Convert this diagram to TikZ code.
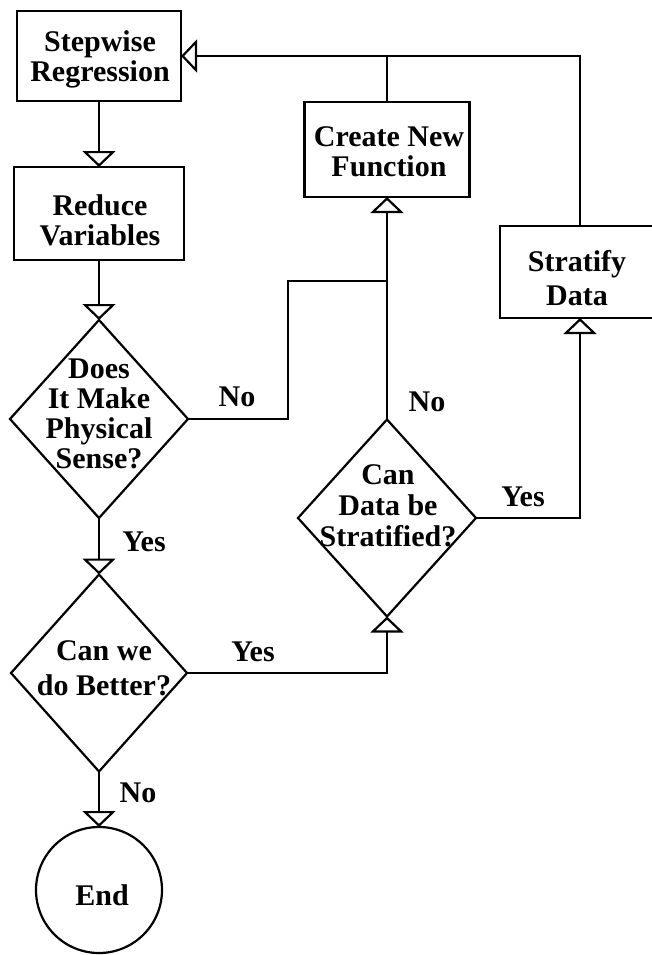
\documentclass[tikz,border=0pt]{standalone}
\usepackage{fontspec}
\setmainfont{Liberation Serif}
\usetikzlibrary{arrows.meta,shapes.geometric}
\begin{document}
\begin{tikzpicture}[x=1pt,y=-1pt,
  every node/.style={font=\fontsize{30}{30}\selectfont\bfseries, align=center, inner sep=0pt, outer sep=0pt},
  box/.style={draw, line width=2.2pt, rectangle},
  dia/.style={draw, line width=2.2pt, diamond},
  conn/.style={line width=2.2pt},
  arr/.style={line width=2.2pt, -{Triangle[open, length=16pt, width=33pt, fill=white]}}]
\useasboundingbox (0,0) rectangle (652,955);
\clip (0,0) rectangle (652,955);
% nodes
\node[box, minimum width=164pt, minimum height=90pt] (step) at (99,56) {};
\node (stept) at (100,59) {Stepwise\\Regression};
\node[box, minimum width=170pt, minimum height=93pt] (red) at (99,213.5) {};
\node (redt) at (100,220) {Reduce\\Variables};
\node[box, minimum width=165pt, minimum height=95pt] (cnf) at (387,149.5) {};
\node (cnft) at (389,152) {Create New\\Function};
\node[box, minimum width=160pt, minimum height=92pt] (strat) at (580,272) {};
\node[font=\fontsize{30}{34}\selectfont\bfseries] (stratt) at (577,278) {Stratify\\Data};
\node[dia, minimum width=178pt, minimum height=198pt] (d1) at (99,419) {};
\node (d1t) at (99,414) {Does\\It Make\\Physical\\Sense?};
\node[dia, minimum width=178pt, minimum height=197pt] (d2) at (387,518) {};
\node[font=\fontsize{30}{31}\selectfont\bfseries] (d2t) at (388,506) {Can\\Data be\\Stratified?};
\node[dia, minimum width=176pt, minimum height=197pt] (d3) at (99,673) {};
\node[font=\fontsize{30}{35}\selectfont\bfseries] (d3t) at (104,668) {Can we\\do Better?};
\node[draw, circle, line width=2.2pt, minimum size=126pt] (end) at (99,890) {};
\node (endt) at (102,895) {End};
% labels
\node (l1) at (237,397) {No};
\node (l2) at (427,402) {No};
\node (l3) at (523,497) {Yes};
\node (l4) at (144,542) {Yes};
\node (l5) at (253,652) {Yes};
\node (l6) at (138,793) {No};
% connectors
\coordinate (j1) at (288,281);
\draw[arr] (step) -- (red);
\draw[arr] (red) -- (d1.north);
\draw[arr] (d1.south) -- (d3.north);
\draw[arr] (d3.south) -- (end.north);
\draw[conn] (d1.east) -| (j1) -- (j1 -| d2.north);
\draw[arr] (d2.north) -- (cnf.south);
\draw[arr] (d2.east) -| (strat.south);
\draw[arr] (d3.east) -| (d2.south);
\draw[arr] (strat.north) |- (step.east);
\draw[conn] (cnf.north) -- (cnf.north |- step.east);
\end{tikzpicture}
\end{document}
